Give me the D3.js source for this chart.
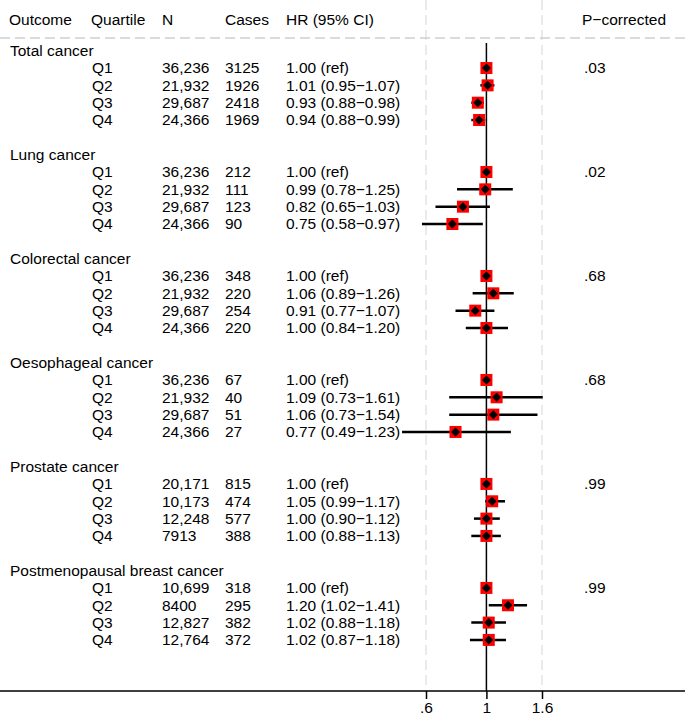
<!DOCTYPE html>
<html>
<head>
<meta charset="utf-8">
<script src="https://cdn.jsdelivr.net/npm/d3@7"></script>
<style>
  body { margin: 0; background: #fff; }
  svg text { font-family: "Liberation Sans", Arial, Helvetica, sans-serif; font-size: 15.5px; fill: #000; }
</style>
</head>
<body>
<div id="ForestDiv"></div>
<script>
const outcomes = ["Total cancer", "Lung cancer", "Colorectal cancer", "Oesophageal cancer", "Prostate cancer", "Postmenopausal breast cancer"];
const quartiles = ["Q1", "Q2", "Q3", "Q4"];
const nLabels = [
    ["36,236", "21,932", "29,687", "24,366"],
    ["36,236", "21,932", "29,687", "24,366"],
    ["36,236", "21,932", "29,687", "24,366"],
    ["36,236", "21,932", "29,687", "24,366"],
    ["20,171", "10,173", "12,248", "7913"],
    ["10,699", "8400", "12,827", "12,764"]
];
const cases = [
    [3125, 1926, 2418, 1969],
    [212, 111, 123, 90],
    [348, 220, 254, 220],
    [67, 40, 51, 27],
    [815, 474, 577, 388],
    [318, 295, 382, 372]
];
const hr = [
    [1.00, 1.01, 0.93, 0.94],
    [1.00, 0.99, 0.82, 0.75],
    [1.00, 1.06, 0.91, 1.00],
    [1.00, 1.09, 1.06, 0.77],
    [1.00, 1.05, 1.00, 1.00],
    [1.00, 1.20, 1.02, 1.02]
];
const ciLow = [
    [null, 0.95, 0.88, 0.88],
    [null, 0.78, 0.65, 0.58],
    [null, 0.89, 0.77, 0.84],
    [null, 0.73, 0.73, 0.49],
    [null, 0.99, 0.90, 0.88],
    [null, 1.02, 0.88, 0.87]
];
const ciHigh = [
    [null, 1.07, 0.98, 0.99],
    [null, 1.25, 1.03, 0.97],
    [null, 1.26, 1.07, 1.20],
    [null, 1.61, 1.54, 1.23],
    [null, 1.17, 1.12, 1.13],
    [null, 1.41, 1.18, 1.18]
];
const pCorrected = [".03", ".02", ".68", ".68", ".99", ".99"];
const xTicks = [0.6, 1, 1.6];
const xTickLabels = [".6", "1", "1.6"];

function createForest() {
    const width = 685, height = 719;
    const svg = d3.select("#ForestDiv").append("svg")
        .attr("width", width)
        .attr("height", height);

    const x = d3.scaleLog().domain([0.6, 1.6]).range([426, 542]);
    const rowH = 17.33;
    const y = r => 50.7 + r * rowH;
    const axisY = 691;

    // build rows
    const rows = [];
    outcomes.forEach((o, g) => {
        rows.push({type: "title", r: g * 6, label: o});
        quartiles.forEach((q, i) => {
            const lo = ciLow[g][i], hi = ciHigh[g][i];
            rows.push({
                type: "row", r: g * 6 + 1 + i, q: q,
                n: nLabels[g][i], cases: cases[g][i], hr: hr[g][i], lo: lo, hi: hi,
                hrText: lo == null ? hr[g][i].toFixed(2) + " (ref)"
                    : hr[g][i].toFixed(2) + " (" + lo.toFixed(2) + "\u2212" + hi.toFixed(2) + ")",
                p: i === 0 ? pCorrected[g] : ""
            });
        });
    });

    // grid lines
    svg.selectAll("line.grid")
        .data([0.6, 1.6])
        .join("line")
        .attr("class", "grid")
        .attr("x1", d => x(d)).attr("x2", d => x(d))
        .attr("y1", 0).attr("y2", axisY)
        .attr("stroke", "#e3e3e3").attr("stroke-width", 1.5)
        .attr("stroke-dasharray", "10,5");

    svg.append("line")
        .attr("x1", 0).attr("x2", width)
        .attr("y1", 38).attr("y2", 38)
        .attr("stroke", "#cfcfcf").attr("stroke-width", 1.5)
        .attr("stroke-dasharray", "10,5");

    // reference line at 1
    svg.append("line")
        .attr("x1", x(1)).attr("x2", x(1))
        .attr("y1", 43).attr("y2", axisY)
        .attr("stroke", "#000").attr("stroke-width", 1.5);

    // header
    const header = [["Outcome", 9], ["Quartile", 91], ["N", 162], ["Cases", 225], ["HR (95% CI)", 286], ["P\u2212corrected", 582]];
    svg.selectAll("text.head")
        .data(header)
        .join("text")
        .attr("class", "head")
        .attr("x", d => d[1]).attr("y", 20).attr("dy", "0.35em")
        .text(d => d[0]);

    // text columns
    const titles = rows.filter(d => d.type === "title");
    const data = rows.filter(d => d.type === "row");

    svg.selectAll("text.title")
        .data(titles).join("text")
        .attr("class", "title")
        .attr("x", 10).attr("y", d => y(d.r)).attr("dy", "0.35em")
        .text(d => d.label);

    const cols = [["q", 92], ["n", 162], ["cases", 225], ["hrText", 286], ["p", 584]];
    cols.forEach(([key, cx]) => {
        svg.selectAll("text.c-" + key)
            .data(data).join("text")
            .attr("class", "c-" + key)
            .attr("x", cx).attr("y", d => y(d.r)).attr("dy", "0.35em")
            .text(d => d[key]);
    });

    // CI lines
    svg.selectAll("line.ci")
        .data(data.filter(d => d.lo != null))
        .join("line")
        .attr("class", "ci")
        .attr("x1", d => x(d.lo)).attr("x2", d => x(d.hi))
        .attr("y1", d => y(d.r)).attr("y2", d => y(d.r))
        .attr("stroke", "#000").attr("stroke-width", 2.5);

    // boxes
    const box = 12;
    svg.selectAll("rect.box")
        .data(data).join("rect")
        .attr("class", "box")
        .attr("x", d => x(d.hr) - box / 2).attr("y", d => y(d.r) - box / 2)
        .attr("width", box).attr("height", box)
        .attr("fill", "#ff0000");

    // diamonds
    svg.selectAll("path.pt")
        .data(data).join("path")
        .attr("class", "pt")
        .attr("transform", d => `translate(${x(d.hr)},${y(d.r)})`)
        .attr("d", "M0,-4.5L4.5,0L0,4.5L-4.5,0Z")
        .attr("fill", "#000");

    // x axis
    svg.append("line")
        .attr("x1", 0).attr("x2", width)
        .attr("y1", axisY).attr("y2", axisY)
        .attr("stroke", "#000").attr("stroke-width", 1.5);

    const axis = d3.axisBottom(x)
        .tickValues(xTicks)
        .tickSize(8)
        .tickFormat((d, i) => xTickLabels[i]);
    const ax = svg.append("g")
        .attr("transform", `translate(0,${axisY})`)
        .call(axis);
    ax.select(".domain").remove();
    ax.selectAll(".tick line").attr("stroke", "#000").attr("stroke-width", 1.5);
    ax.selectAll(".tick text")
        .attr("y", 11)
        .style("font-size", "15.5px")
        .style("font-family", "'Liberation Sans', Arial, Helvetica, sans-serif");
}

createForest();
</script>
</body>
</html>
